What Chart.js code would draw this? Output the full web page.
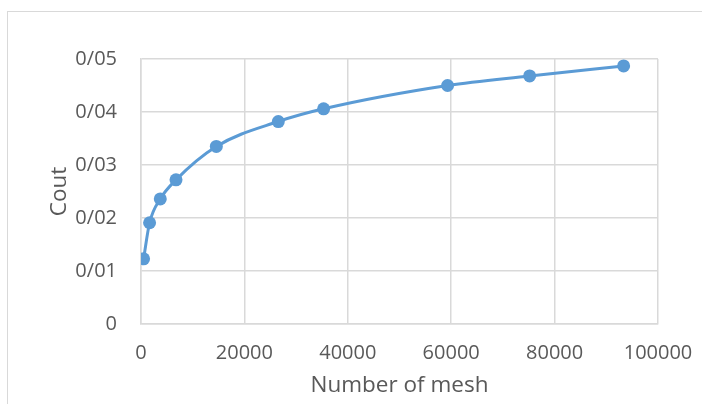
<!DOCTYPE html>
<html>
<head>
<meta charset="utf-8">
<script src="https://cdn.jsdelivr.net/npm/chart.js@4/dist/chart.umd.min.js"></script>
<style>
  html, body { margin: 0; padding: 0; background: #ffffff; }
  #wrap { position: relative; width: 702px; height: 404px; overflow: hidden; }
  #frame {
    position: absolute; left: 7px; top: 11px; right: -2px; bottom: -2px;
    border-left: 1px solid #d9d9d9; border-top: 1px solid #d9d9d9;
  }
  canvas { position: absolute; left: 0; top: 0; }
</style>
</head>
<body>
<div id="wrap">
  <div id="frame"></div>
  <canvas id="chart" width="702" height="404"></canvas>
</div>
<script>
// Mesh count vs. outlet value
const meshCounts = [500, 1660, 3730, 6770, 14570, 26560, 35320, 59300, 75170, 93350];
const coutValues = [0.0123, 0.0191, 0.0236, 0.0272, 0.0335, 0.0382, 0.0406, 0.0450, 0.0468, 0.0487];
const yTickLabels = ['0', '0/01', '0/02', '0/03', '0/04', '0/05'];
const xTickValues = [0, 20000, 40000, 60000, 80000, 100000];

const textColor = '#595959';
const gridColor = '#d9d9d9';
const tickFont = { family: '"Open Sans", sans-serif', size: 20 };
const titleFont = { family: '"Open Sans", sans-serif', size: 22.5 };

const points = meshCounts.map((x, i) => ({ x: x, y: coutValues[i] }));

new Chart(document.getElementById('chart'), {
  type: 'scatter',
  data: {
    datasets: [{
      data: points,
      showLine: true,
      borderColor: '#5b9bd5',
      backgroundColor: '#5b9bd5',
      borderWidth: 3,
      pointRadius: 6.5,
      pointHoverRadius: 6.5,
      pointBorderWidth: 0,
      cubicInterpolationMode: 'monotone'
    }]
  },
  options: {
    responsive: false,
    animation: false,
    events: [],
    layout: { padding: { left: 0, right: 44, top: 59, bottom: 0 } },
    plugins: { legend: { display: false }, tooltip: { enabled: false } },
    scales: {
      x: {
        type: 'linear',
        min: 0,
        max: 100000,
        afterBuildTicks: (s) => { s.ticks = xTickValues.map(v => ({ value: v })); },
        afterFit: (s) => { s.height = 80; s.paddingLeft = 0; s.paddingRight = 0; },
        grid: { color: gridColor, lineWidth: 1.5, drawTicks: false },
        border: { color: gridColor, width: 1.5 },
        ticks: { color: textColor, font: tickFont, padding: 17, maxRotation: 0, autoSkip: false,
                 callback: (v) => String(v) },
        title: { display: true, text: 'Number of mesh', color: textColor, font: titleFont,
                 padding: { top: 0, bottom: 5 } }
      },
      y: {
        type: 'linear',
        min: 0,
        max: 0.05,
        afterBuildTicks: (s) => { s.ticks = yTickLabels.map((_, i) => ({ value: i * 0.01 })); },
        afterFit: (s) => { s.width = 141; s.paddingTop = 0; s.paddingBottom = 0; },
        grid: { color: gridColor, lineWidth: 1.5, drawTicks: false },
        border: { color: gridColor, width: 1.5 },
        ticks: { color: textColor, font: tickFont, padding: 24, autoSkip: false,
                 callback: (v) => yTickLabels[Math.round(v / 0.01)] },
        title: { display: true, text: 'Cout', color: textColor, font: titleFont,
                 padding: { top: 46, bottom: 0 } }
      }
    }
  }
});
</script>
</body>
</html>
